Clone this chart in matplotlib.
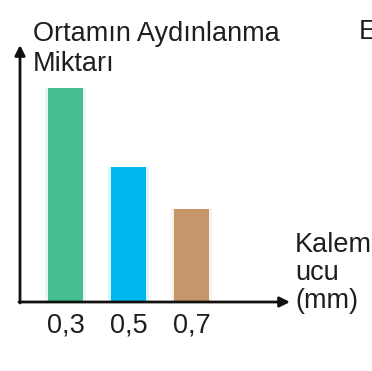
import numpy as np
import matplotlib.pyplot as plt

# kalem ucu (mm) ve ortamin aydinlanma miktari (goreli)
categories = ["0,3", "0,5", "0,7"]
values = [214, 135, 93]
colors = ["#45be91", "#00b8f0", "#c6966b"]

plt.rcParams['font.family'] = ['Liberation Sans', 'DejaVu Sans']
fig = plt.figure(figsize=(3.72, 3.71), dpi=100)
ax = fig.add_axes([0, 0, 1, 1])
ax.set_xlim(0, 372)
ax.set_ylim(0, 371)
ax.axis('off')

base = 69
xs = 65.5 + 63 * np.arange(len(categories))

# faint halo around the bars
ax.bar(xs, values, width=41, bottom=base, color=colors, alpha=0.12, zorder=1)
ax.bar(xs, values, width=35, bottom=base, color=colors, zorder=2)

for x, lab in zip(xs, categories):
    ax.text(x, base - 24, lab, ha='center', va='center', fontsize=19.5, color='#1e1e1e')

# axes with arrows
ax.annotate('', xy=(20, 326), xytext=(20, base - 1),
            arrowprops=dict(arrowstyle='-|>', color='#111111', lw=2,
                            mutation_scale=15, shrinkA=0, shrinkB=0), zorder=3)
ax.annotate('', xy=(290, base), xytext=(19, base),
            arrowprops=dict(arrowstyle='-|>', color='#111111', lw=2,
                            mutation_scale=15, shrinkA=0, shrinkB=0), zorder=3)

ax.text(33, 322, "Ortamın Aydınlanma\nMiktarı", ha='left', va='center',
        fontsize=19.5, color='#1e1e1e', linespacing=1.2)
ax.text(295, 98, "Kalem\nucu\n(mm)", ha='left', va='center',
        fontsize=19.5, color='#1e1e1e', linespacing=1.12)
ax.text(359, 339, "E", ha='left', va='center', fontsize=19.5, color='#1e1e1e',
        clip_on=True)

fig.savefig("out.png", dpi=100)
